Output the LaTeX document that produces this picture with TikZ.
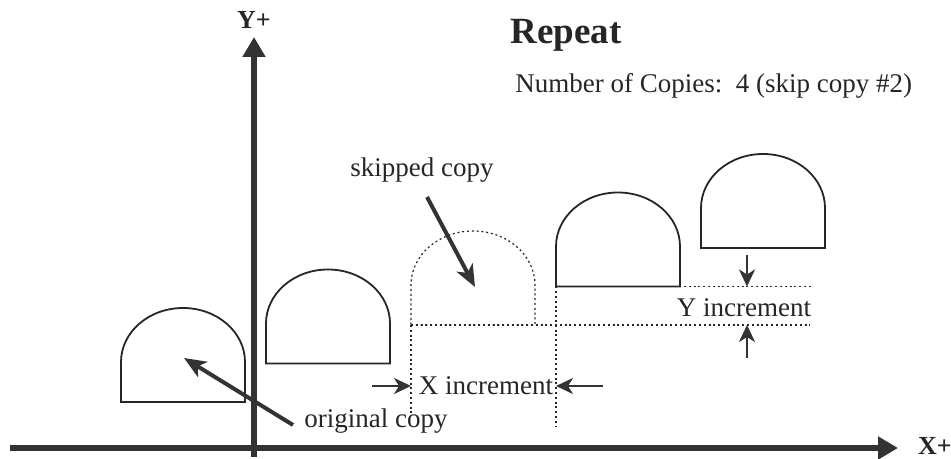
\documentclass[tikz,border=0pt]{standalone}
\usepackage{fontspec}
\setmainfont{Liberation Serif}
\usetikzlibrary{arrows.meta, calc}

\begin{document}
\begin{tikzpicture}[x=0.5pt, y=0.5pt,
    axis/.style={
        line width=2.6pt,
        draw=black!80,
        -{Triangle[length=10pt, width=11pt]}
    },
    domeline/.style={
        line width=0.9pt,
        draw=black!85
    },
    guide/.style={
        line width=0.6pt,
        draw=black!85,
        dash pattern=on 1pt off 1.4pt
    },
    pointer/.style={
        line width=2pt,
        draw=black!80,
        -{Stealth[length=11pt, width=9pt, inset=3pt]}
    },
    incarrow/.style={
        line width=1.2pt,
        draw=black!80,
        -{Stealth[length=8.5pt, width=8pt, inset=2.5pt]}
    },
    lbl/.style={
        font=\fontsize{13.5}{16}\selectfont,
        inner sep=1pt,
        text=black!85
    },
    axlbl/.style={
        font=\fontsize{13}{15}\selectfont\bfseries,
        inner sep=1pt,
        text=black!85
    }
]

\useasboundingbox (0,0) rectangle (951,459);

% =====================
% Axes
% =====================

\coordinate (ybot) at (254,2);
\coordinate (ytop) at (254,422);
\coordinate (xleft) at (10,11);
\coordinate (xright) at (898,11);

\draw[axis] (ybot) -- (ytop);
\draw[axis] (xleft) -- (xright);

\node[axlbl] (ylbl) at (254,439) {Y+};
\node[axlbl] (xlbl) at (935,13) {X+};

% =====================
% Copies
% =====================

\foreach \i in {0,...,4}
    \coordinate (copy\i) at ({121+145*\i},{57+38.5*\i});

\foreach \i in {0,1,3,4}
    \draw[domeline] (copy\i) -- ++(124,0) -- ++(0,40)
        arc[start angle=0, end angle=180, x radius=62, y radius=54] -- cycle;

% skipped copy
\draw[guide] (copy2) -- ++(124,0) -- ++(0,40)
    arc[start angle=0, end angle=180, x radius=62, y radius=54] -- cycle;

% =====================
% Guides
% =====================

\draw[guide] (copy2) -- ++(0,-90);
\draw[guide] (copy3) -- ++(0,-140);
\draw[guide] (copy2) -- ++(399,0);
\draw[guide] ($(copy3)+(128,0)$) -- ++(128,0);

% =====================
% Labels
% =====================

\node[font=\fontsize{18.5}{22}\selectfont\bfseries, text=black!85,
    anchor=west, inner sep=0pt] (title) at (510,424) {Repeat};
\node[lbl, anchor=west, inner sep=0pt] (count) at (515,373)
    {Number of Copies:~~4 (skip copy \#2)};

\node[lbl] (skiplbl) at (422,289) {skipped copy};
\node[lbl] (origlbl) at (376,38) {original copy};
\node[lbl] (xinc) at (486,73) {X increment};
\node[lbl] (yinc) at (744,151.5) {Y increment};

% =====================
% Pointers
% =====================

\coordinate (origtail) at (293,34);
\coordinate (origtip) at (184,101);
\coordinate (skiptail) at (427,262);
\coordinate (skiptip) at (475,172);

\draw[pointer] (origtail) -- (origtip);
\draw[pointer] (skiptail) -- (skiptip);

% =====================
% Increment arrows
% =====================

\coordinate (xtailL) at (372,73);
\coordinate (xtailR) at (603,73);
\coordinate (ytailT) at (747,204);
\coordinate (ytailB) at (747,101);

\draw[incarrow] (xtailL) -- (copy2 |- xinc);
\draw[incarrow] (xtailR) -- (copy3 |- xinc);
\draw[incarrow] (ytailT) -- (ytailT |- copy3);
\draw[incarrow] (ytailB) -- (ytailB |- copy2);

\end{tikzpicture}
\end{document}
